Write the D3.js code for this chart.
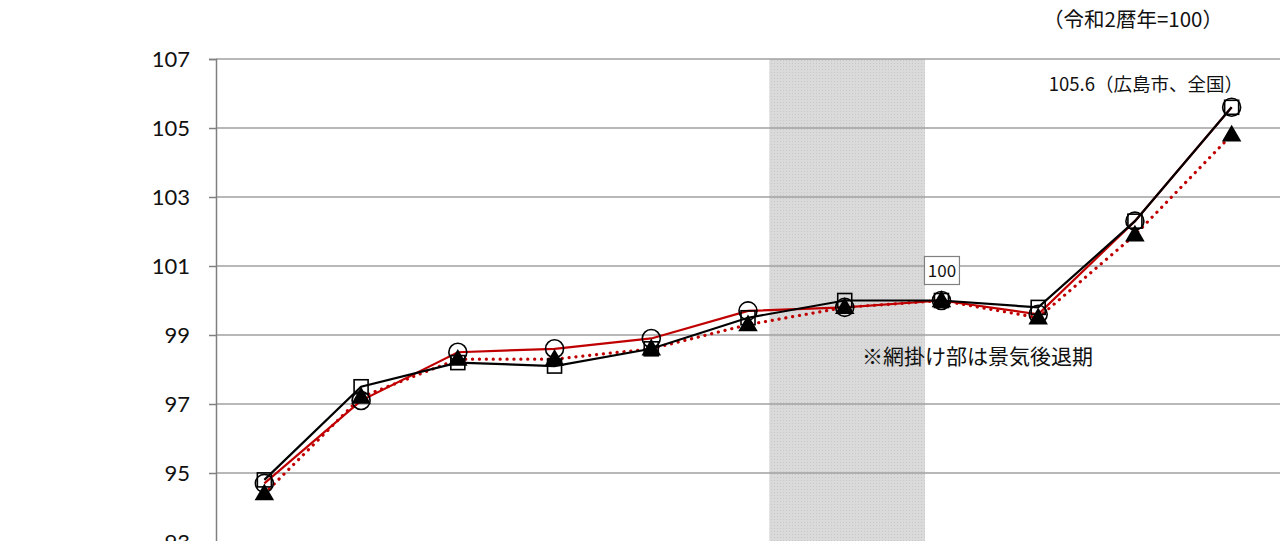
<!DOCTYPE html>
<html><head><meta charset="utf-8">
<script src="https://cdn.jsdelivr.net/npm/d3@7"></script>
<style>body{margin:0;background:#fff}svg{display:block}</style>
</head><body>
<svg id="c" width="1282" height="541"></svg>
<script>
const categories = ["平成25年","26年","27年","28年","29年","30年","令和元年","2年","3年","4年","5年"];
const hiroshimaCity = [94.7, 97.1, 98.5, 98.6, 98.9, 99.7, 99.8, 100.0, 99.6, 102.3, 105.6];
const national = [94.8, 97.5, 98.2, 98.1, 98.6, 99.5, 100.0, 100.0, 99.8, 102.3, 105.6];
const thirdSeries = [94.4, 97.2, 98.3, 98.3, 98.6, 99.3, 99.8, 100.0, 99.5, 101.9, 104.8];
const yTicks = [93, 95, 97, 99, 101, 103, 105, 107];
const recession = [5.22, 6.83]; // in category-index units
const baseLabel = "100";
const lastLabel = "105.6（広島市、全国）";
const noteLabel = "※網掛け部は景気後退期";
const unitLabel = "（令和2暦年=100）";

const svg = d3.select("#c");
const L = 216, R = 1280, T = 59, B = 542;
const x = d3.scaleBand().domain(categories.map((d,i)=>i)).range([L, R]);
const xc = i => x(i) + x.bandwidth()/2;
const xLin = d3.scaleLinear().domain([-0.5, categories.length-0.5]).range([L, R]);
const y = d3.scaleLinear().domain([93, 107]).range([B, T]);
const jp = "'Noto Sans CJK JP','Noto Sans',sans-serif";

// shading
const defs = svg.append("defs");
const pat = defs.append("pattern").attr("id","dots").attr("width",3).attr("height",3).attr("patternUnits","userSpaceOnUse");
pat.append("rect").attr("width",3).attr("height",3).attr("fill","#dadada");
pat.append("rect").attr("width",1).attr("height",1).attr("fill","#c8c8c8");
svg.append("rect").attr("x", xLin(recession[0])).attr("y", T)
  .attr("width", xLin(recession[1]) - xLin(recession[0])).attr("height", B - T)
  .attr("fill","url(#dots)");

// grid
svg.append("g").selectAll("line").data(yTicks).join("line")
  .attr("x1", L).attr("x2", R).attr("y1", d=>y(d)).attr("y2", d=>y(d))
  .attr("stroke","#a0a0a0").attr("stroke-width",1.5);

// y axis
const ya = svg.append("g").attr("transform",`translate(${L},0)`)
  .call(d3.axisLeft(y).tickValues(yTicks).tickSize(7).tickPadding(19).tickFormat(d3.format("d")));
ya.select(".domain").attr("stroke","#808080").attr("stroke-width",1.5);
ya.selectAll(".tick line").attr("stroke","#808080").attr("stroke-width",1.5);
ya.selectAll("text").attr("font-family","Lato, 'Open Sans', sans-serif").attr("font-size",22).attr("fill","#111");

// x axis (its labels lie below the visible area in the reference, so none are drawn)
const xa = svg.append("g").attr("transform",`translate(0,${B})`).call(d3.axisBottom(x).tickFormat("").tickSize(0));
xa.select(".domain").attr("stroke","#808080");

const line = d3.line().x((d,i)=>xc(i)).y(d=>y(d));
svg.append("path").datum(hiroshimaCity).attr("d",line).attr("fill","none").attr("stroke","#c00000").attr("stroke-width",2.2);
svg.append("path").datum(thirdSeries).attr("d",line).attr("fill","none").attr("stroke","#c00000").attr("stroke-width",3.2)
  .attr("stroke-dasharray","0.1 6.8").attr("stroke-linecap","round");
svg.append("path").datum(national).attr("d",line).attr("fill","none").attr("stroke","#000").attr("stroke-width",2.2);

// markers
svg.append("g").selectAll("circle").data(hiroshimaCity).join("circle")
  .attr("cx",(d,i)=>xc(i)).attr("cy",d=>y(d)).attr("r",9)
  .attr("fill","none").attr("stroke","#000").attr("stroke-width",1.6);
svg.append("g").selectAll("rect").data(national).join("rect")
  .attr("x",(d,i)=>xc(i)-7).attr("y",d=>y(d)-7).attr("width",14).attr("height",14)
  .attr("fill","none").attr("stroke","#000").attr("stroke-width",1.6);
const tri = d3.symbol().type(d3.symbolTriangle).size(165);
svg.append("g").selectAll("path").data(thirdSeries).join("path")
  .attr("transform",(d,i)=>`translate(${xc(i)},${y(d)+1})`).attr("d",tri).attr("fill","#000");

// labels
const bi = 7;
const bx = xc(bi), by = y(100) - 30;
svg.append("rect").attr("x",bx-17).attr("y",by-14).attr("width",35).attr("height",28)
  .attr("fill","#fff").attr("stroke","#808080").attr("stroke-width",1.2);
svg.append("text").attr("x",bx+0.5).attr("y",by+6).attr("text-anchor","middle")
  .attr("font-family",jp).attr("font-size",17).attr("fill","#111").text(baseLabel);
svg.append("text").attr("x",1243).attr("y",91).attr("text-anchor","end")
  .attr("font-family",jp).attr("font-size",18.5).attr("fill","#111").text(lastLabel);
svg.append("text").attr("x",862).attr("y",364).attr("text-anchor","start")
  .attr("font-family",jp).attr("font-size",21).attr("fill","#111").text(noteLabel);
svg.append("text").attr("x",1043).attr("y",27).attr("text-anchor","start")
  .attr("font-family",jp).attr("font-size",20.5).attr("fill","#111").text(unitLabel);
</script>
</body></html>
